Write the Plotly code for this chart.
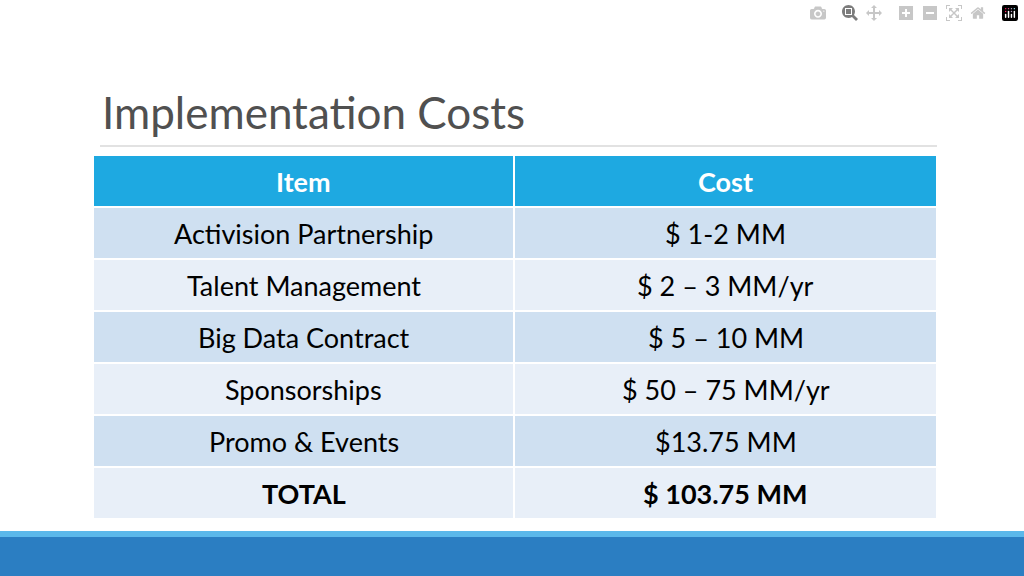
import plotly.graph_objects as go

items = ["Activision Partnership", "Talent Management", "Big Data Contract",
         "Sponsorships", "Promo &amp; Events", "<b>TOTAL</b>"]
costs = ["$ 1-2 MM", "$ 2 \u2013 3 MM/yr", "$ 5 \u2013 10 MM",
         "$ 50 \u2013 75 MM/yr", "$13.75 MM", "<b>$ 103.75 MM</b>"]
headers = ["<b>Item</b>", "<b>Cost</b>"]
row_colors = ["#CFE0F1", "#E8EFF8"] * 3

W, H = 1024, 576
x0, xm, x1 = 93, 514, 937
top, rh = 155, 52

fig = go.Figure()
fig.update_xaxes(range=[0, W], visible=False)
fig.update_yaxes(range=[H, 0], visible=False)

def cell(xa, xb, ya, color, text, font_color):
    fig.add_shape(type="rect", x0=xa, x1=xb, y0=ya, y1=ya + rh, fillcolor=color,
                  line=dict(color="white", width=2), layer="below")
    fig.add_annotation(x=(xa + xb) / 2, y=ya + rh / 2, text=text, showarrow=False,
                       font=dict(family="Lato", size=27, color=font_color))

cell(x0, xm, top, "#1EA9E1", headers[0], "white")
cell(xm, x1, top, "#1EA9E1", headers[1], "white")
for i, (it, c) in enumerate(zip(items, costs)):
    y = top + rh * (i + 1)
    cell(x0, xm, y, row_colors[i], it, "black")
    cell(xm, x1, y, row_colors[i], c, "black")

fig.add_annotation(text="Implementation Costs", x=100, y=112, xanchor="left",
                   showarrow=False, font=dict(family="Lato", size=44, color="#505050"))
fig.add_shape(type="line", x0=100, x1=937, y0=146, y1=146, line=dict(color="#D9D9D9", width=1.5))
fig.add_shape(type="rect", x0=0, x1=W, y0=531, y1=H, fillcolor="#5BB8EA", line_width=0)
fig.add_shape(type="rect", x0=0, x1=W, y0=537, y1=H, fillcolor="#2B7EC2", line_width=0)

fig.update_layout(width=W, height=H, margin=dict(l=0, r=0, t=0, b=0),
                  paper_bgcolor="white", plot_bgcolor="white", showlegend=False)
fig.write_html("out.html", post_script="document.body.style.margin='0';")
